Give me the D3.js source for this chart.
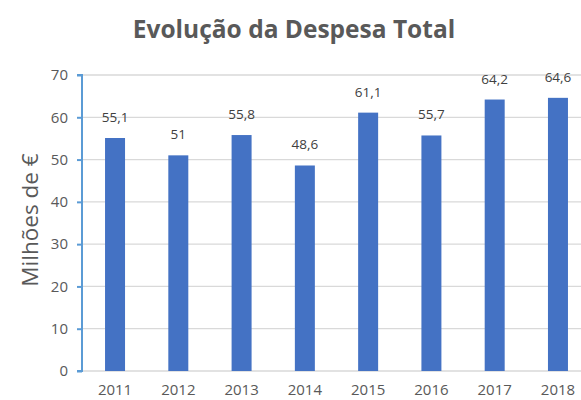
<!DOCTYPE html>
<html><head><meta charset="utf-8">
<script src="https://cdn.jsdelivr.net/npm/d3@7/dist/d3.min.js"></script>
<style>body{margin:0;background:#fff;} svg{display:block;}</style>
</head><body>
<script>
const categories = ["2011","2012","2013","2014","2015","2016","2017","2018"];
const values = [55.1, 51, 55.8, 48.6, 61.1, 55.7, 64.2, 64.6];
const valueLabels = ["55,1","51","55,8","48,6","61,1","55,7","64,2","64,6"];
const yTicks = [0,10,20,30,40,50,60,70];
const title = "Evolução da Despesa Total";
const yTitle = "Milhões de €";

const W = 581, H = 400;
const svg = d3.select("body").append("svg").attr("width", W).attr("height", H);
const font = "'Open Sans', 'Noto Sans', sans-serif";

const x = d3.scaleBand().domain(categories).range([83.4, 589.6]).paddingInner(0.684).paddingOuter(0.342);
const y = d3.scaleLinear().domain([0, 70]).range([371, 75]);

// gridlines
svg.append("g").selectAll("line").data(yTicks).join("line")
  .attr("x1", 82).attr("x2", W).attr("y1", d => y(d)).attr("y2", d => y(d))
  .attr("stroke", "#d9d9d9").attr("stroke-width", 1.3);

// bars
svg.append("g").selectAll("rect").data(values).join("rect")
  .attr("x", (d,i) => x(categories[i])).attr("width", x.bandwidth())
  .attr("y", d => y(d)).attr("height", d => y(0) - y(d))
  .attr("fill", "#4472c4");

// y axis
const yAxis = d3.axisLeft(y).tickValues(yTicks).tickSize(5).tickPadding(9);
const ga = svg.append("g").attr("transform", "translate(82,0)").call(yAxis);
ga.select(".domain").attr("stroke", "#5b9bd5").attr("stroke-width", 2).attr("d", `M-5,${y(70)}H0V${y(0)}H-5`);
ga.selectAll(".tick line").attr("stroke", "#5b9bd5").attr("stroke-width", 2);
ga.selectAll(".tick text").attr("fill", "#595959").style("font-family", font).style("font-size", "15px");

// x axis labels
const xAxis = d3.axisBottom(x).tickSize(0).tickPadding(13);
const gx = svg.append("g").attr("transform", `translate(0,${y(0)})`).call(xAxis);
gx.select(".domain").remove();
gx.selectAll(".tick text").attr("fill", "#595959").style("font-family", font).style("font-size", "15px");

// value labels
svg.append("g").selectAll("text").data(values).join("text")
  .attr("x", (d,i) => x(categories[i]) + x.bandwidth()/2)
  .attr("y", d => y(d) - 16)
  .attr("text-anchor", "middle")
  .attr("fill", "#404040").style("font-family", font).style("font-size", "13.5px")
  .text((d,i) => valueLabels[i]);

// title
svg.append("text").attr("x", 294).attr("y", 38).attr("text-anchor", "middle")
  .attr("fill", "#595959").style("font-family", font).style("font-size", "24.5px").style("font-weight", "bold")
  .text(title);

// y title
svg.append("text").attr("transform", "translate(38,220) rotate(-90)").attr("text-anchor", "middle")
  .attr("fill", "#595959").style("font-family", font).style("font-size", "22.5px")
  .text(yTitle);
</script>
</body></html>
